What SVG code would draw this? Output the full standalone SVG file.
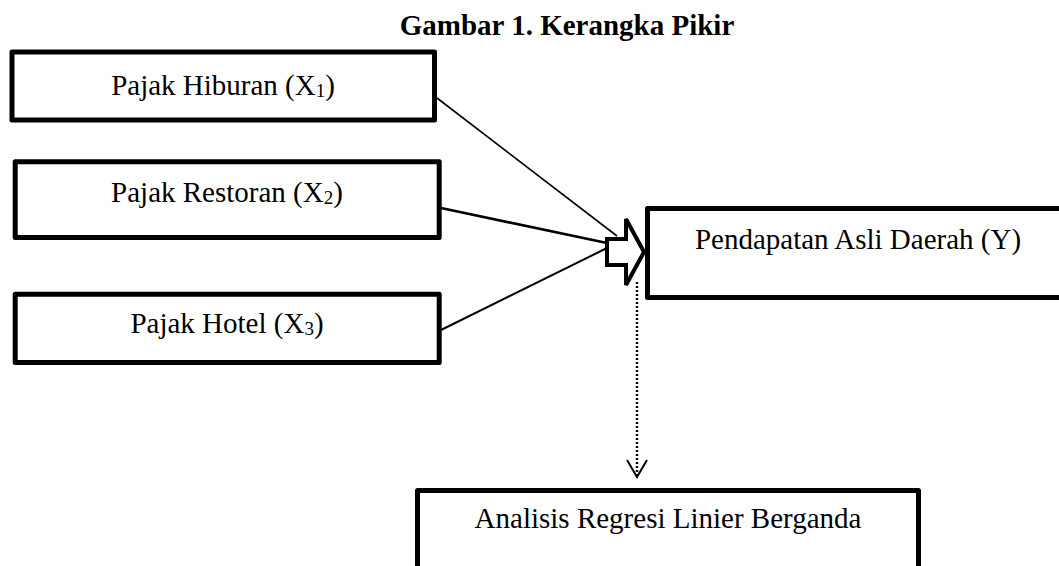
<svg xmlns="http://www.w3.org/2000/svg" width="1059" height="566" viewBox="0 0 1059 566">
<style>
.box{fill:#fff;stroke:#000;stroke-width:5;stroke-linejoin:round}
.lbl{font-family:"Liberation Serif","Times New Roman",serif;font-size:29px;fill:#000;text-anchor:middle}
.sub{font-size:19px}
.title{font-family:"Liberation Serif","Times New Roman",serif;font-size:29px;font-weight:bold;fill:#000;text-anchor:middle}
.ln{stroke:#000;fill:none}
</style>
<rect width="1059" height="566" fill="#fff"/>
<text class="title" x="567" y="35">Gambar 1. Kerangka Pikir</text>
<g id="connectors">
<line class="ln" x1="437" y1="98" x2="617" y2="236" stroke-width="1.6"/>
<line class="ln" x1="441" y1="208" x2="607" y2="243" stroke-width="2.6"/>
<line class="ln" x1="441" y1="330" x2="607" y2="248" stroke-width="2"/>
<path class="ln" d="M607,239 H626 V219 L644,252 L626,285 V265 H607 Z" fill="#fff" stroke-width="4" stroke-linejoin="miter"/>
<line class="ln" x1="637" y1="282" x2="637" y2="476" stroke-width="2.5" stroke-dasharray="2 2"/>
<polyline class="ln" points="627,460 637,477 647,460" stroke-width="2"/>
</g>
<g id="node-x1">
<rect class="box" x="12" y="52" width="422.5" height="68"/>
<text class="lbl" x="223" y="95">Pajak Hiburan (X<tspan class="sub" dy="2">1</tspan><tspan dy="-2">)</tspan></text>
</g>
<g id="node-x2">
<rect class="box" x="15.2" y="161.8" width="424" height="75.7"/>
<text class="lbl" x="227" y="202">Pajak Restoran (X<tspan class="sub" dy="2">2</tspan><tspan dy="-2">)</tspan></text>
</g>
<g id="node-x3">
<rect class="box" x="15.2" y="294.2" width="424" height="68.3"/>
<text class="lbl" x="227" y="333">Pajak Hotel (X<tspan class="sub" dy="2">3</tspan><tspan dy="-2">)</tspan></text>
</g>
<g id="node-y">
<rect class="box" x="647.5" y="208.5" width="500" height="89"/>
<text class="lbl" x="858" y="249">Pendapatan Asli Daerah (Y)</text>
</g>
<g id="node-regresi">
<rect class="box" x="417.5" y="490.5" width="501" height="200"/>
<text class="lbl" x="668" y="528">Analisis Regresi Linier Berganda</text>
</g>
</svg>
